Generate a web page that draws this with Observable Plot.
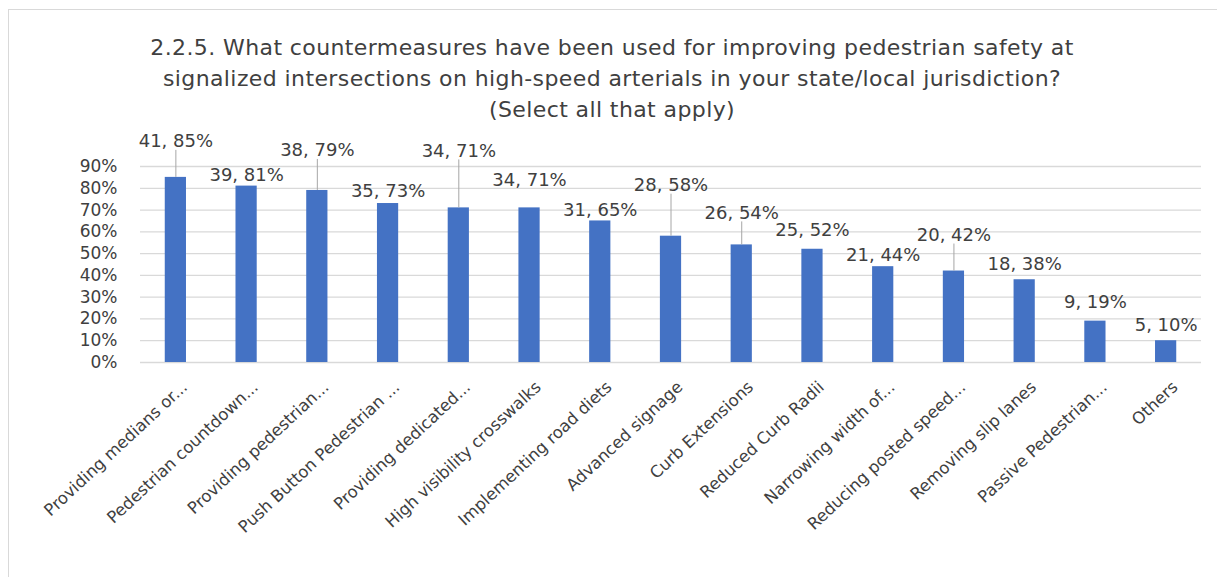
<!DOCTYPE html>
<html>
<head>
<meta charset="utf-8">
<script src="https://cdn.jsdelivr.net/npm/d3@7"></script>
<script src="https://cdn.jsdelivr.net/npm/@observablehq/plot@0.6"></script>
<style>
  html, body { margin: 0; padding: 0; background: #ffffff; }
  #wrap { position: relative; width: 1217px; height: 577px; overflow: hidden; background: #fff; font-family: "DejaVu Sans", sans-serif; }
  #frame { position: absolute; left: 8px; top: 9px; right: -5px; bottom: -5px; border-top: 1.5px solid #d9d9d9; border-left: 1.5px solid #d9d9d9; }
  #title { position: absolute; left: 0; width: 1224px; top: 32px; text-align: center; font-size: 22px; letter-spacing: 0.4px; line-height: 31px; color: #404040; }
  #chart { position: absolute; left: 0; top: 0; }
</style>
</head>
<body>
<div id="wrap">
  <div id="frame"></div>
  <div id="chart"></div>
  <div id="title">2.2.5. What countermeasures have been used for improving pedestrian safety at<br>signalized intersections on high-speed arterials in your state/local jurisdiction?<br>(Select all that apply)</div>
</div>
<script>
const categories = [
  "Providing medians or...",
  "Pedestrian countdown...",
  "Providing pedestrian...",
  "Push Button Pedestrian ...",
  "Providing dedicated...",
  "High visibility crosswalks",
  "Implementing road diets",
  "Advanced signage",
  "Curb Extensions",
  "Reduced Curb Radii",
  "Narrowing width of...",
  "Reducing posted speed...",
  "Removing slip lanes",
  "Passive Pedestrian...",
  "Others"
];
const counts   = [41, 39, 38, 35, 34, 34, 31, 28, 26, 25, 21, 20, 18, 9, 5];
const percents = [85, 81, 79, 73, 71, 71, 65, 58, 54, 52, 44, 42, 38, 19, 10];
const yTicks = [0, 10, 20, 30, 40, 50, 60, 70, 80, 90];

// label placement (Excel's manual data-label positions): lift above bar top, in px
const labelLift = [36, 11, 40, 12, 57, 28, 11, 51, 32, 19, 11, 36, 16, 19, 15];
const hasLeader = [true, false, true, false, true, false, false, true, true, false, false, true, false, false, false];

const W = 1217, H = 577;
const mTop = 166, mBottom = 215, mLeft = 140, mRight = 16;
const pxPerUnit = (H - mTop - mBottom) / 90;

const data = categories.map((name, i) => ({
  name, count: counts[i], pct: percents[i], lift: labelLift[i], leader: hasLeader[i]
}));

const chart = Plot.plot({
  width: W,
  height: H,
  marginTop: mTop,
  marginBottom: mBottom,
  marginLeft: mLeft,
  marginRight: mRight,
  style: { fontFamily: "DejaVu Sans, sans-serif", background: "transparent", color: "#404040", overflow: "visible" },
  x: { domain: categories, paddingInner: 0.7, paddingOuter: 0.35, round: false, label: null },
  y: { domain: [0, 90], label: null },
  marks: [
    Plot.gridY(yTicks, { stroke: "#d9d9d9", strokeOpacity: 1, strokeWidth: 1.3 }),
    Plot.barY(data, { x: "name", y: "pct", fill: "#4472C4" }),
    Plot.ruleX(data.filter(d => d.leader), {
      x: "name", y1: "pct", y2: d => d.pct + (d.lift - 9) / pxPerUnit,
      stroke: "#a6a6a6", strokeWidth: 1
    }),
    Plot.text(data, {
      x: "name", y: d => d.pct + d.lift / pxPerUnit,
      text: d => `${d.count}, ${d.pct}%`,
      fontSize: 18, fill: "#404040"
    }),
    Plot.axisY(yTicks, { tickFormat: d => d + "%", tickSize: 0, tickPadding: 23, fontSize: 17, fill: "#404040" }),
    Plot.axisX({ tickSize: 0, tickRotate: -43, tickPadding: 22, dx: 9, fontSize: 16.5, fill: "#404040" })
  ]
});
document.getElementById("chart").appendChild(chart);
</script>
</body>
</html>
